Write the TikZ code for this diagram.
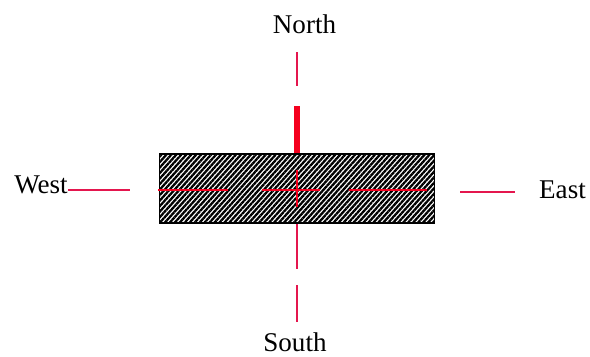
\documentclass[tikz,border=0pt]{standalone}
\usepackage{fontspec}
\setmainfont{Liberation Serif}
\usetikzlibrary{positioning,patterns.meta}
\definecolor{axisred}{RGB}{228,22,78}
\definecolor{beamred}{RGB}{245,0,30}
\tikzset{label/.style={font=\fontsize{15.4}{18}\selectfont, inner sep=0pt, anchor=base}}

\begin{document}
\begin{tikzpicture}[
    axis/.style={draw=axisred, line width=1.3pt},
    inaxis/.style={draw=beamred, line width=1.3pt},
    thick axis/.style={draw=beamred, line width=3.1pt},
    bar/.style={
        draw,
        line width=1.1pt,
        minimum width=5.50cm,
        minimum height=1.38cm,
        inner sep=0pt,
        pattern={Lines[angle=48, distance=2.1pt, line width=1.3pt]}
    }
]
\useasboundingbox (-5.94,-3.32) rectangle (5.86,3.80);
% Hatched bar
\node[bar] (beam) at (0,0.03) {};
% Labels
\node[label] (north) at (0.15,3.14) {North};
\node[label] (south) at (-0.04,-3.22) {South};
\node[label] (west)  at (-5.12,-0.06) {West};
\node[label] (east)  at (5.31,-0.16) {East};
% North side
\coordinate (nTop) at (0,2.76);
\coordinate (nBot) at (0,2.08);
\coordinate (nStub) at (0,1.68);
\draw[axis] (nTop) -- (nBot);
\draw[thick axis] (nStub) -- (beam.north);
% South side
\coordinate (sMid) at (0,-1.58);
\coordinate (sTop) at (0,-1.90);
\coordinate (sBot) at (0,-2.64);
\draw[axis] (beam.south) -- (sMid);
\draw[axis] (sTop) -- (sBot);
% West and east
\coordinate (wEnd) at (-3.33,0);
\coordinate (eStart) at (3.27,-0.04);
\coordinate (eEnd) at (4.37,-0.04);
\draw[axis] (west.base east) ++(0,0.06) -- (wEnd);
\draw[axis] (eStart) -- (eEnd);
% Centre line inside the bar
\coordinate (c1) at (-1.37,0);
\coordinate (c2) at (-0.69,0);
\coordinate (c3) at (0.47,0);
\coordinate (c4) at (1.05,0);
\coordinate (c5) at (2.61,0);
\coordinate (cUp) at (0,0.40);
\coordinate (cDown) at (0,-0.34);
\draw[inaxis] (beam.west |- c1) -- (c1);
\draw[inaxis] (c2) -- (c3);
\draw[inaxis] (c4) -- (c5);
\draw[inaxis] (cUp) -- (cDown);
\end{tikzpicture}
\end{document}
